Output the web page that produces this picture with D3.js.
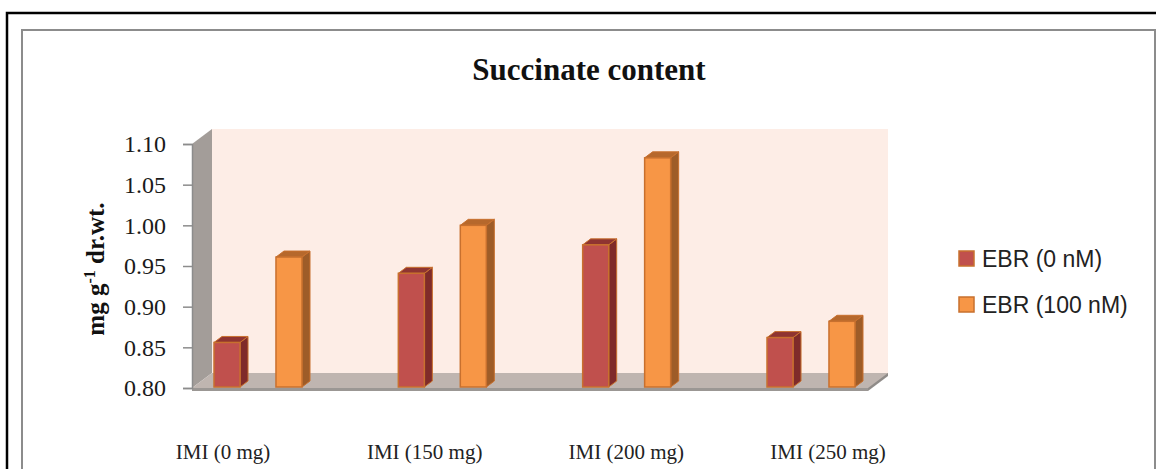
<!DOCTYPE html>
<html>
<head>
<meta charset="utf-8">
<script src="https://cdn.jsdelivr.net/npm/d3@7"></script>
<style>
  html, body { margin: 0; padding: 0; background: #fff; }
  svg { display: block; }
</style>
</head>
<body>
<svg id="chart" width="1156" height="469"></svg>
<script>
// Succinate content, two EBR treatments across four IMI doses
const categories = ["IMI (0 mg)", "IMI (150 mg)", "IMI (200 mg)", "IMI (250 mg)"];
const seriesNames = ["EBR (0 nM)", "EBR (100 nM)"];
const ebr0 = [0.856, 0.941, 0.976, 0.862];
const ebr100 = [0.961, 1.000, 1.083, 0.882];
const yTicks = [0.80, 0.85, 0.90, 0.95, 1.00, 1.05, 1.10];

const series = [
  { name: seriesNames[0], values: ebr0, front: "#c0504d", side: "#7f2b2a", top: "#8f3431" },
  { name: seriesNames[1], values: ebr100, front: "#f79646", side: "#9e5c28", top: "#b6682c" }
];

const svg = d3.select("#chart");
const serif = "'Liberation Serif', 'Times New Roman', serif";
const sans = "'Liberation Sans', Arial, sans-serif";

// plot geometry (front plane) and 3D depth offsets
const plotLeft = 192, plotRight = 868;
const wallDx = 20, wallDy = -15;
const barDx = 8, barDy = -6;

const y = d3.scaleLinear().domain([0.80, 1.10]).range([388, 144]);
const xGroup = d3.scalePoint().domain(categories).range([258, 811]);
const xSub = d3.scaleBand().domain(seriesNames).range([-44, 44]).paddingInner(0.58).paddingOuter(0);
const xLabel = d3.scalePoint().domain(categories).range([223, 828]);

const y0 = y(0.80), yTop = y(1.10);

// frames
svg.append("rect").attr("x", 7).attr("y", 13).attr("width", 1200).attr("height", 500)
  .attr("fill", "none").attr("stroke", "#000").attr("stroke-width", 2.5);
svg.append("rect").attr("x", 22).attr("y", 30).attr("width", 1133).attr("height", 500)
  .attr("fill", "#fff").attr("stroke", "#8c8c8c").attr("stroke-width", 2);

const pts = a => a.map(p => p.join(",")).join(" ");

// back wall
svg.append("polygon")
  .attr("points", pts([[plotLeft + wallDx, yTop + wallDy], [plotRight + wallDx, yTop + wallDy],
                       [plotRight + wallDx, y0 + wallDy], [plotLeft + wallDx, y0 + wallDy]]))
  .attr("fill", "#fdede6");

// side wall
svg.append("polygon")
  .attr("points", pts([[plotLeft, yTop], [plotLeft + wallDx, yTop + wallDy],
                       [plotLeft + wallDx, y0 + wallDy], [plotLeft, y0]]))
  .attr("fill", "#a39d99");

// floor
svg.append("polygon")
  .attr("points", pts([[plotLeft, y0 + 3], [plotRight, y0 + 3], [plotRight + wallDx, y0 + wallDy + 3],
                       [plotRight + wallDx, y0 + wallDy]]))
  .attr("fill", "#8f8b88");
svg.append("polygon")
  .attr("points", pts([[plotLeft, y0], [plotLeft + wallDx, y0 + wallDy],
                       [plotRight + wallDx, y0 + wallDy], [plotRight, y0]]))
  .attr("fill", "#bfb5b0");
svg.append("rect").attr("x", plotLeft).attr("y", y0).attr("width", plotRight - plotLeft).attr("height", 3)
  .attr("fill", "#9b9794");

// bars
const bw = xSub.bandwidth();
const stroke = "#c8702e";
series.forEach(s => {
  const g = svg.append("g");
  categories.forEach((c, i) => {
    const x0 = xGroup(c) + xSub(s.name);
    const yv = y(s.values[i]);
    const yb = y0 - 1;
    // side face
    g.append("polygon")
      .attr("points", pts([[x0 + bw, yv], [x0 + bw + barDx, yv + barDy], [x0 + bw + barDx, yb + barDy], [x0 + bw, yb]]))
      .attr("fill", s.side).attr("stroke", stroke).attr("stroke-width", 1).attr("stroke-linejoin", "round");
    // top face
    g.append("polygon")
      .attr("points", pts([[x0, yv], [x0 + barDx, yv + barDy], [x0 + bw + barDx, yv + barDy], [x0 + bw, yv]]))
      .attr("fill", s.top).attr("stroke", stroke).attr("stroke-width", 1).attr("stroke-linejoin", "round");
    // front face
    g.append("rect")
      .attr("x", x0).attr("y", yv).attr("width", bw).attr("height", yb - yv)
      .attr("fill", s.front).attr("stroke", stroke).attr("stroke-width", 1.5);
  });
});

// y axis
const yAxis = d3.axisLeft(y).tickValues(yTicks).tickFormat(d3.format(".2f")).tickSize(9).tickPadding(17);
const ax = svg.append("g").attr("transform", `translate(${plotLeft},0)`).call(yAxis);
ax.select(".domain").attr("stroke", "#8c8c8c").attr("stroke-width", 1.5);
ax.selectAll(".tick line").attr("stroke", "#8c8c8c").attr("stroke-width", 1.5);
ax.selectAll(".tick text").attr("font-family", serif).attr("font-size", 24).attr("fill", "#1a1a1a");

// y axis title
const yt = svg.append("text")
  .attr("transform", `translate(104,${(y0 + yTop) / 2 + 3}) rotate(-90)`)
  .attr("text-anchor", "middle")
  .attr("font-family", serif).attr("font-weight", "bold").attr("font-size", 25).attr("fill", "#111");
yt.append("tspan").text("mg g");
yt.append("tspan").text("-1").attr("font-size", 16).attr("dy", -9);
yt.append("tspan").text(" dr.wt.").attr("dy", 9);

// title
svg.append("text").attr("x", 589).attr("y", 80).attr("text-anchor", "middle")
  .attr("font-family", serif).attr("font-weight", "bold").attr("font-size", 31).attr("fill", "#111")
  .text("Succinate content");

// category labels
svg.append("g").selectAll("text").data(categories).join("text")
  .attr("x", d => xLabel(d)).attr("y", 459).attr("text-anchor", "middle")
  .attr("font-family", serif).attr("font-size", 21).attr("fill", "#222")
  .text(d => d);

// legend
const lg = svg.append("g").attr("transform", "translate(959,251)");
series.forEach((s, i) => {
  const row = lg.append("g").attr("transform", `translate(0,${i * 46})`);
  row.append("rect").attr("x", 0).attr("y", 0).attr("width", 15).attr("height", 15)
    .attr("fill", s.front).attr("stroke", stroke).attr("stroke-width", 1.5);
  row.append("text").attr("x", 23).attr("y", 16)
    .attr("font-family", sans).attr("font-size", 23).attr("fill", "#222").text(s.name);
});
</script>
</body>
</html>
